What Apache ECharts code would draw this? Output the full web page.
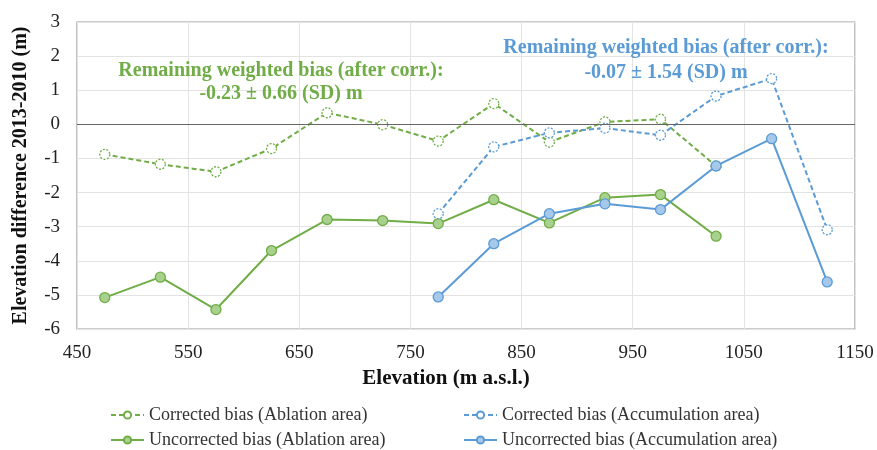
<!DOCTYPE html>
<html><head><meta charset="utf-8">
<script src="https://cdn.jsdelivr.net/npm/echarts@6/dist/echarts.min.js"></script>
<style>html,body{margin:0;padding:0;background:#fff}#c{width:877px;height:450px}</style>
</head><body><div id="c"></div>
<script>
const ablationElev = [475, 525, 575, 625, 675, 725, 775, 825, 875, 925, 975, 1025];
const accumElev = [775, 825, 875, 925, 975, 1025, 1075, 1125];
const correctedAblation = [-0.88, -1.17, -1.39, -0.71, 0.34, -0.01, -0.49, 0.61, -0.52, 0.07, 0.15, -1.22];
const uncorrectedAblation = [-5.08, -4.48, -5.43, -3.70, -2.79, -2.82, -2.91, -2.21, -2.89, -2.15, -2.06, -3.28];
const correctedAccum = [-2.62, -0.66, -0.25, -0.11, -0.32, 0.83, 1.34, -3.09];
const uncorrectedAccum = [-5.06, -3.50, -2.62, -2.33, -2.50, -1.22, -0.42, -4.62];
const xTicks = [450, 550, 650, 750, 850, 950, 1050, 1150];
const yTicks = [-6, -5, -4, -3, -2, -1, 0, 1, 2, 3];
const seriesNames = ['Corrected bias (Ablation area)', 'Uncorrected bias (Ablation area)', 'Corrected bias (Accumulation area)', 'Uncorrected bias (Accumulation area)'];
const noteAblation = ['Remaining weighted bias (after corr.):', '-0.23 ± 0.66 (SD) m'];
const noteAccum = ['Remaining weighted bias (after corr.):', '-0.07 ± 1.54 (SD) m'];

const GREEN = '#70ad47', BLUE = '#5b9bd5';
const FONT = '"Liberation Serif", "DejaVu Serif", serif';
const zip = (xs, ys) => xs.map((x, i) => [x, ys[i]]);

function mkSeries(name, xs, ys, color, dashed, fill) {
  return {
    name, type: 'line', data: zip(xs, ys),
    symbol: 'circle', symbolSize: 10,
    lineStyle: { color, width: 2, type: dashed ? [5, 3] : 'solid' },
    itemStyle: { color: fill, borderColor: color, borderWidth: 1.3, borderType: dashed ? [2, 1.5] : 'solid' },
    emphasis: { disabled: true }, animation: false
  };
}

const chart = echarts.init(document.getElementById('c'), null, { renderer: 'canvas' });
const series = [
  mkSeries(seriesNames[0], ablationElev, correctedAblation, GREEN, true, '#ffffff'),
  mkSeries(seriesNames[1], ablationElev, uncorrectedAblation, GREEN, false, '#a9d18e'),
  mkSeries(seriesNames[2], accumElev, correctedAccum, BLUE, true, '#ffffff'),
  mkSeries(seriesNames[3], accumElev, uncorrectedAccum, BLUE, false, '#a6c8ea')
];
series[0].markLine = { silent: true, symbol: 'none', label: { show: false }, lineStyle: { color: '#666', width: 1, type: 'solid' }, data: [{ yAxis: 0 }], animation: false };

const legendText = { fontFamily: FONT, fontSize: 18, color: '#333', lineHeight: 18 };
const legendPos = [[110, 406], [110, 431], [463, 406], [463, 431]];
const legends = seriesNames.map((n, i) => ({
  data: [n], orient: 'horizontal', left: legendPos[i][0], top: legendPos[i][1], padding: 0,
  itemWidth: 33, itemHeight: 9, itemGap: 0, textStyle: legendText, selectedMode: false
}));

chart.setOption({
  animation: false,
  grid: { left: 77, right: 22, top: 22, bottom: 121, show: true, borderColor: '#999', borderWidth: 1.2 },
  xAxis: {
    type: 'value', min: xTicks[0], max: xTicks[xTicks.length - 1], interval: 100,
    name: 'Elevation (m a.s.l.)', nameLocation: 'middle', nameGap: 38,
    nameTextStyle: { fontFamily: FONT, fontSize: 21, fontWeight: 'bold', color: '#111', padding: [0, 40, 0, 0] },
    axisLine: { show: false }, axisTick: { show: false },
    axisLabel: { fontFamily: FONT, fontSize: 19, color: '#222', margin: 15, formatter: v => String(v) },
    splitLine: { show: true, lineStyle: { color: '#e3e3e3' } }
  },
  yAxis: {
    type: 'value', min: yTicks[0], max: yTicks[yTicks.length - 1], interval: 1,
    name: 'Elevation difference 2013-2010 (m)', nameLocation: 'middle', nameGap: 46, nameRotate: 90,
    nameTextStyle: { fontFamily: FONT, fontSize: 20, fontWeight: 'bold', color: '#111' },
    axisLine: { show: false }, axisTick: { show: false },
    axisLabel: { fontFamily: FONT, fontSize: 19, color: '#222', margin: 17 },
    splitLine: { show: true, lineStyle: { color: '#e3e3e3' } }
  },
  legend: legends,
  graphic: [
    { type: 'text', z: 100, x: 281, y: 82, style: { text: noteAblation.join('\n'), fill: GREEN, font: 'bold 20px ' + FONT, align: 'center', verticalAlign: 'middle', lineHeight: 23 } },
    { type: 'text', z: 100, x: 666, y: 60, style: { text: noteAccum.join('\n'), fill: BLUE, font: 'bold 20px ' + FONT, align: 'center', verticalAlign: 'middle', lineHeight: 25 } }
  ],
  series
});
</script></body></html>
